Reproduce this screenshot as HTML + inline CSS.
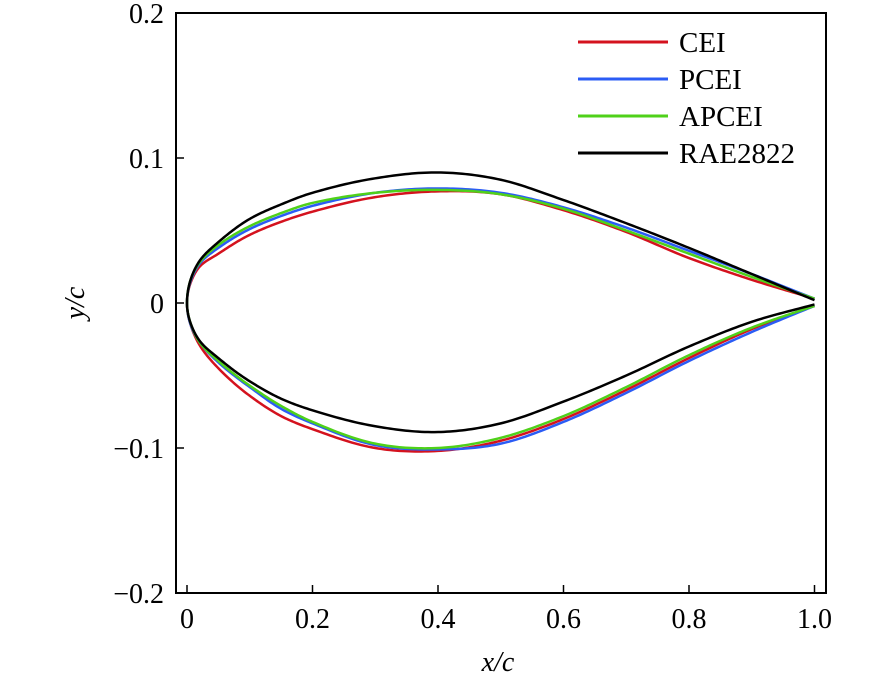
<!DOCTYPE html>
<html><head><meta charset="utf-8"><style>
body{margin:0;background:#fff}
svg text{font-family:"Liberation Serif",serif;fill:#000}
</style></head><body>
<svg id="chart" width="887" height="683" viewBox="0 0 887 683">
<rect x="176" y="13" width="650" height="580" fill="none" stroke="#000" stroke-width="2"/>
<g id="axes"></g>
<g id="series"></g>
<text x="498" y="671" font-size="28" text-anchor="middle" font-style="italic">x/c</text>
<text transform="translate(84,303) rotate(-90)" font-size="28" text-anchor="middle" font-style="italic">y/c</text>
<g id="legend"></g>
</svg>
<script>
const xs=[0,0.005,0.02,0.05,0.1,0.15,0.2,0.3,0.4,0.5,0.6,0.7,0.8,0.9,1.0];
const ceiUpper=[0,0.013,0.025,0.034,0.047,0.056,0.063,0.073,0.077,0.075,0.064,0.049,0.031,0.016,0.003];
const ceiLower=[0,-0.014,-0.029,-0.045,-0.064,-0.078,-0.087,-0.100,-0.102,-0.095,-0.080,-0.060,-0.038,-0.018,-0.002];
const pceiUpper=[0,0.014,0.027,0.038,0.051,0.060,0.067,0.076,0.079,0.076,0.066,0.052,0.036,0.020,0.003];
const pceiLower=[0,-0.014,-0.027,-0.041,-0.058,-0.073,-0.083,-0.098,-0.101,-0.097,-0.082,-0.062,-0.040,-0.020,-0.002];
const apceiUpper=[0,0.015,0.028,0.040,0.053,0.062,0.069,0.076,0.078,0.075,0.065,0.050,0.034,0.018,0.003];
const apceiLower=[0,-0.013,-0.027,-0.040,-0.057,-0.071,-0.082,-0.097,-0.100,-0.093,-0.078,-0.058,-0.036,-0.017,-0.002];
const raeUpper=[0,0.015,0.029,0.042,0.058,0.068,0.076,0.086,0.090,0.085,0.071,0.055,0.038,0.020,0.002];
const raeLower=[0,-0.013,-0.026,-0.038,-0.054,-0.066,-0.074,-0.085,-0.089,-0.083,-0.068,-0.050,-0.030,-0.013,-0.001];
const xTicks=[0,0.2,0.4,0.6,0.8,1.0];
const xTickLabels=["0","0.2","0.4","0.6","0.8","1.0"];
const yTicks=[-0.2,-0.1,0,0.1,0.2];
const yTickLabels=["\u22120.2","\u22120.1","0","0.1","0.2"];
const seriesNames=["CEI","PCEI","APCEI","RAE2822"];
const seriesColors=["#d4121e","#2b5cf5","#4fd11a","#000"];
const seriesData=[[ceiUpper,ceiLower],[pceiUpper,pceiLower],[apceiUpper,apceiLower],[raeUpper,raeLower]];
const NS="http://www.w3.org/2000/svg";
const sx=v=>187+v*627.5, sy=v=>303-v*1450;
const axes=document.getElementById('axes');
xTicks.forEach((t,i)=>{
  const l=document.createElementNS(NS,'line');
  l.setAttribute('x1',sx(t));l.setAttribute('x2',sx(t));l.setAttribute('y1',593);l.setAttribute('y2',585);
  l.setAttribute('stroke','#000');l.setAttribute('stroke-width','1.5');
  
  
  axes.appendChild(l);
  const tx=document.createElementNS(NS,'text');
  tx.setAttribute('x',sx(t));tx.setAttribute('y',628);tx.setAttribute('font-size','28');tx.setAttribute('text-anchor','middle');
  tx.textContent=xTickLabels[i];
  
  
  axes.appendChild(tx);
});
yTicks.forEach((t,i)=>{
  const l=document.createElementNS(NS,'line');
  l.setAttribute('x1',176);l.setAttribute('x2',184);l.setAttribute('y1',sy(t));l.setAttribute('y2',sy(t));
  l.setAttribute('stroke','#000');l.setAttribute('stroke-width','1.5');
  
  
  axes.appendChild(l);
  const tx=document.createElementNS(NS,'text');
  tx.setAttribute('x',164);tx.setAttribute('y',sy(t)+10);tx.setAttribute('font-size','28');tx.setAttribute('text-anchor','end');
  tx.textContent=yTickLabels[i];
  
  
  axes.appendChild(tx);
});
function curve(ys){
  const u=xs.map(Math.sqrt), n=u.length;
  const m=ys.map((y,i)=>{
    if(i===0) return (ys[1]-ys[0])/(u[1]-u[0]);
    if(i===n-1) return (ys[n-1]-ys[n-2])/(u[n-1]-u[n-2]);
    return (ys[i+1]-ys[i-1])/(u[i+1]-u[i-1]);
  });
  const pts=[];
  for(let i=0;i<n-1;i++){
    const h=u[i+1]-u[i];
    for(let s=0;s<20;s++){
      const t=s/20,t2=t*t,t3=t2*t;
      const y=(2*t3-3*t2+1)*ys[i]+(t3-2*t2+t)*h*m[i]+(-2*t3+3*t2)*ys[i+1]+(t3-t2)*h*m[i+1];
      const uu=u[i]+t*h;
      pts.push(sx(uu*uu).toFixed(2)+','+sy(y).toFixed(2));
    }
  }
  pts.push(sx(1)+','+sy(ys[n-1]));
  return 'M'+pts.join(' L');
}
const sg=document.getElementById('series');
seriesData.forEach((pair,k)=>{
  pair.forEach((ys,j)=>{
    const pa=document.createElementNS(NS,'path');
    pa.setAttribute('d',curve(ys));pa.setAttribute('fill','none');
    pa.setAttribute('stroke',seriesColors[k]);pa.setAttribute('stroke-width','2.5');
    pa.setAttribute('stroke-linejoin','round');
    
    
    sg.appendChild(pa);
  });
});
const lg=document.getElementById('legend');
seriesNames.forEach((n,i)=>{
  const y=42+i*37;
  const l=document.createElementNS(NS,'line');
  l.setAttribute('x1',578);l.setAttribute('x2',668);l.setAttribute('y1',y);l.setAttribute('y2',y);
  l.setAttribute('stroke',seriesColors[i]);l.setAttribute('stroke-width','3');
  
  
  lg.appendChild(l);
  const t=document.createElementNS(NS,'text');
  t.setAttribute('x',679);t.setAttribute('y',y+10);t.setAttribute('font-size','29');
  t.textContent=n;
  
  
  lg.appendChild(t);
});
</script>
</body></html>
